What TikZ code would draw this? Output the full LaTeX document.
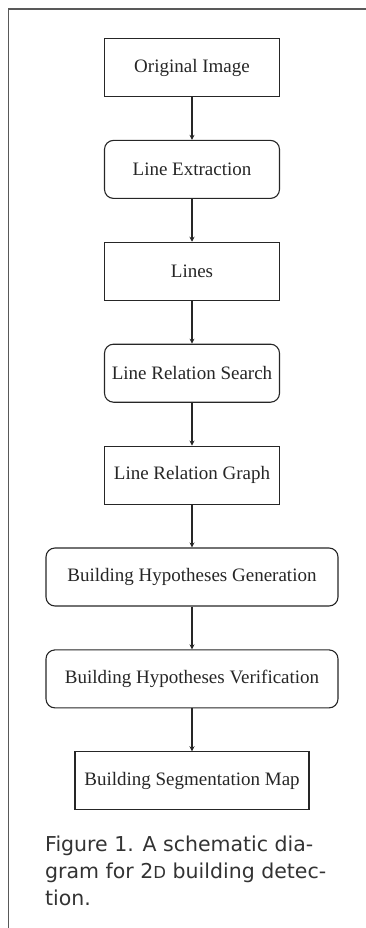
\documentclass[tikz,border=0pt]{standalone}
\usepackage{fontspec}
\setmainfont{Liberation Serif}
\newfontfamily\capfont{DejaVu Sans}
\usetikzlibrary{positioning, arrows.meta}

\begin{document}
\begin{tikzpicture}[
    x=1pt, y=1pt,
    node distance=42.8pt,
    >={Stealth[length=5pt, width=5pt]},
    box/.style={rectangle, draw=black!85, line width=1.1pt, minimum width=#1, minimum height=58pt, inner sep=0pt, align=center, font=\fontsize{19}{22}\selectfont, text=black!85},
    box/.default={175pt},
    rbox/.style={box=#1, rounded corners=9pt},
    rbox/.default={175pt},
    arr/.style={->, line width=1.1pt, black!85},
    frm/.style={line width=1.3pt, black!65},
    figcap/.style={inner sep=0pt, align=left, font=\capfont\fontsize{20.5}{27}\selectfont, text=black!80}
]
\useasboundingbox (0,0) rectangle (366,-928);
\draw[frm] (366,-9) -- (8.5,-9) -- (8.5,-928);

\node[box] (orig) at (192,-67.5) {Original Image};
\node[rbox, below=of orig] (lext) {Line Extraction};
\node[box, below=of lext] (lines) {Lines};
\node[rbox, below=of lines] (lrs) {Line Relation Search};
\node[box, below=of lrs] (lrg) {Line Relation Graph};
\node[rbox=292pt, below=of lrg] (bhg) {Building Hypotheses Generation};
\node[rbox=292pt, below=of bhg] (bhv) {Building Hypotheses Verification};
\node[box=234pt, below=of bhv] (bsm) {Building Segmentation Map};

\draw[arr] (orig) -- (lext);
\draw[arr] (lext) -- (lines);
\draw[arr] (lines) -- (lrs);
\draw[arr] (lrs) -- (lrg);
\draw[arr] (lrg) -- (bhg);
\draw[arr] (bhg) -- (bhv);
\draw[arr] (bhv) -- (bsm);

\node[figcap, anchor=north west] (fig) at (45,-836) {Figure 1. A schematic dia-\\gram for 2{\fontsize{16.5}{27}\selectfont D} building detec-\\tion.};

\end{tikzpicture}
\end{document}
